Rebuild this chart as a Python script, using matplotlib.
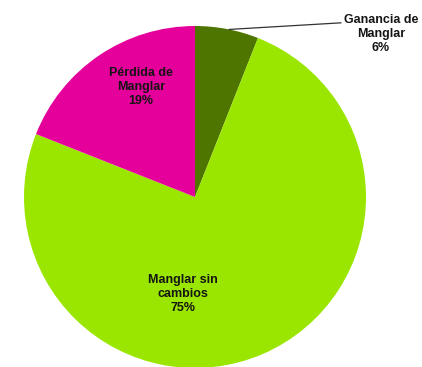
import numpy as np
import matplotlib.pyplot as plt

plt.rcParams['font.family'] = ['Liberation Sans', 'DejaVu Sans']

names = ['Ganancia de\nManglar', 'Manglar sin\ncambios', 'Pérdida de\nManglar']
shares = [6, 75, 19]
colors = ['#4E7500', '#9AE600', '#E6009B']

fig = plt.figure(figsize=(4.22, 3.67), dpi=100)
ax = fig.add_axes([0, 0, 1, 1])

cx, cy, r = 195, 170, 171
wedges, _ = ax.pie(shares, colors=colors, startangle=90, counterclock=False,
                   center=(cx, cy), radius=r, frame=True,
                   wedgeprops=dict(linewidth=0))
ax.set_xlim(0, 422)
ax.set_ylim(0, 367)
ax.axis('off')

labels = [f'{n}\n{s}%' for n, s in zip(names, shares)]
style = dict(ha='center', va='center', fontsize=9, fontweight='bold',
             color='#151515', linespacing=1.25)

# small slice gets its label outside with a leader line
ang = np.deg2rad(78.5)
ax.annotate(labels[0], xy=(cx + r * np.cos(ang), cy + r * np.sin(ang)),
            xytext=(381, 333), textcoords='data',
            arrowprops=dict(arrowstyle='-', color='#333333', lw=0.9,
                            shrinkA=0, shrinkB=0, relpos=(0.0, 0.78)),
            **style)
ax.text(183, 73, labels[1], **style)
ax.text(141, 280, labels[2], **style)

fig.savefig('out.png', dpi=100)
